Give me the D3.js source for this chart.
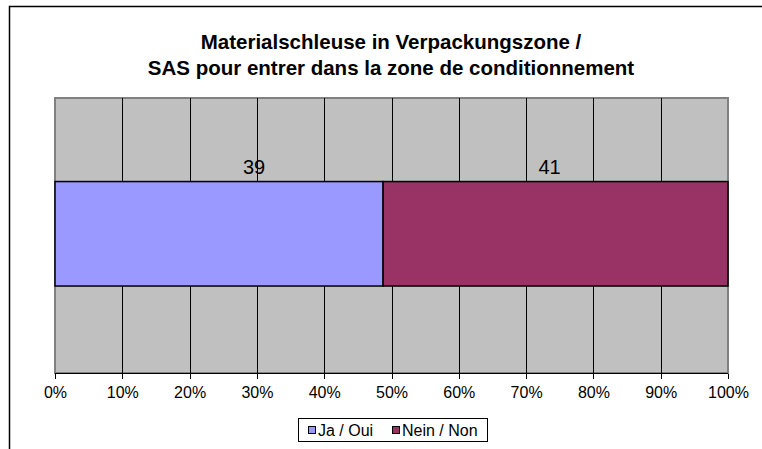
<!DOCTYPE html>
<html>
<head>
<meta charset="utf-8">
<style>
    body { margin: 0; background: #fff; }
    svg text { font-family: Arial, "Liberation Sans", sans-serif; }
    .axis path, .axis line { fill: none; stroke: #000; shape-rendering: crispEdges; }
</style>
</head>
<body>
<div id="containerChart"></div>
<script src="https://cdn.jsdelivr.net/npm/d3@7/dist/d3.min.js"></script>
<script>
    var titleLines = ["Materialschleuse in Verpackungszone /", "SAS pour entrer dans la zone de conditionnement"];
    var categories = ["Materialschleuse"];
    var seriesNames = ["Ja / Oui", "Nein / Non"];
    var seriesValues = [39, 41];
    var seriesColors = ["#9999FF", "#993366"];
    var tickValues = [0, 0.1, 0.2, 0.3, 0.4, 0.5, 0.6, 0.7, 0.8, 0.9, 1];

    var svgWidth = 762, svgHeight = 449;
    var plot = { left: 55, right: 728, top: 98, bottom: 373 };

    var svg = d3.select("#containerChart")
        .append("svg")
        .attr("width", svgWidth)
        .attr("height", svgHeight);

    // chart frame (cut off at right and bottom)
    svg.append("path")
        .attr("d", "M9.5," + (svgHeight + 2) + "V6.5H" + (svgWidth + 2))
        .attr("fill", "none")
        .attr("stroke", "#000")
        .attr("stroke-width", 1.5);

    // title
    svg.append("g").selectAll("text")
        .data(titleLines)
        .enter().append("text")
        .attr("x", 391)
        .attr("y", function (d, i) { return 49 + i * 26; })
        .attr("text-anchor", "middle")
        .style("font-weight", "bold")
        .style("font-size", "20.5px")
        .text(function (d) { return d; });

    var total = d3.sum(seriesValues);
    var stack = [];
    var acc = 0;
    seriesValues.forEach(function (v, i) {
        stack.push({ name: seriesNames[i], value: v, color: seriesColors[i], x0: acc / total, x1: (acc + v) / total });
        acc += v;
    });

    var xScale = d3.scaleLinear().domain([0, 1]).range([plot.left, plot.right]);
    var yScale = d3.scaleBand().domain(categories).range([plot.top, plot.bottom])
        .paddingOuter(0.816).align(0.49);

    // plot area
    svg.append("rect")
        .attr("x", plot.left)
        .attr("y", plot.top)
        .attr("width", plot.right - plot.left)
        .attr("height", plot.bottom - plot.top)
        .attr("fill", "#C0C0C0")
        .attr("stroke", "#808080")
        .attr("stroke-width", 1.5)
        .style("shape-rendering", "crispEdges");

    // gridlines
    svg.append("g").selectAll("line")
        .data(tickValues.slice(1, -1))
        .enter().append("line")
        .attr("x1", function (d) { return Math.round(xScale(d)) + 0.5; })
        .attr("x2", function (d) { return Math.round(xScale(d)) + 0.5; })
        .attr("y1", plot.top)
        .attr("y2", plot.bottom)
        .attr("stroke", "#000");

    // bars
    svg.append("g").selectAll("rect")
        .data(stack)
        .enter().append("rect")
        .attr("x", function (d) { return xScale(d.x0); })
        .attr("y", yScale(categories[0]))
        .attr("width", function (d) { return xScale(d.x1) - xScale(d.x0); })
        .attr("height", yScale.bandwidth())
        .attr("fill", function (d) { return d.color; })
        .attr("stroke", "#000")
        .attr("stroke-width", 1.5);

    // value labels
    var labelNudge = [35, -6];
    svg.append("g").selectAll("text")
        .data(stack)
        .enter().append("text")
        .attr("x", function (d, i) { return (xScale(d.x0) + xScale(d.x1)) / 2 + labelNudge[i]; })
        .attr("y", yScale(categories[0]) - 8)
        .attr("text-anchor", "middle")
        .style("font-size", "20px")
        .text(function (d) { return d.value; });

    // x axis
    var xAxis = d3.axisBottom(xScale)
        .tickValues(tickValues)
        .tickSize(5)
        .tickPadding(8)
        .tickFormat(d3.format(".0%"));

    var gx = svg.append("g")
        .attr("class", "axis")
        .attr("transform", "translate(0," + (plot.bottom + 0.5) + ")")
        .call(xAxis);
    gx.select(".domain").attr("d", "M" + plot.left + ",0H" + plot.right);
    gx.selectAll("text").style("font-size", "16px").attr("fill", "#000");

    // legend
    var legend = svg.append("g").attr("transform", "translate(298,418)");
    legend.append("rect")
        .attr("x", 0.5).attr("y", 0.5)
        .attr("width", 189).attr("height", 23)
        .attr("fill", "#fff").attr("stroke", "#000");
    var legendX = [10, 94];
    var items = legend.selectAll("g.item")
        .data(stack)
        .enter().append("g")
        .attr("class", "item")
        .attr("transform", function (d, i) { return "translate(" + legendX[i] + ",0)"; });
    items.append("rect")
        .attr("x", 0.5).attr("y", 8.5)
        .attr("width", 7).attr("height", 7)
        .attr("fill", function (d) { return d.color; })
        .attr("stroke", "#000");
    items.append("text")
        .attr("x", 10).attr("y", 17.5)
        .style("font-size", "16px")
        .text(function (d) { return d.name; });
</script>
</body>
</html>
